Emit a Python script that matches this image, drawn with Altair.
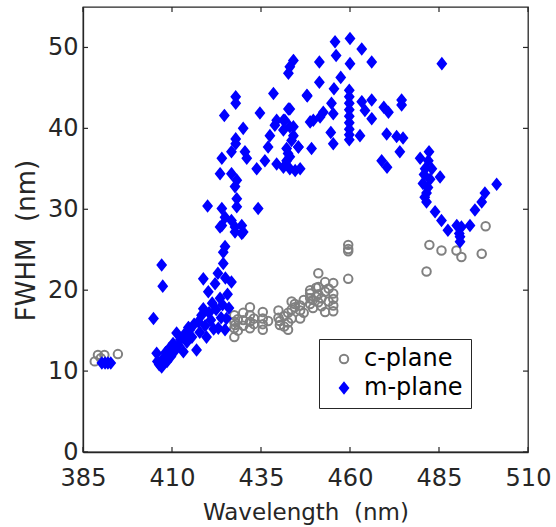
import altair as alt
import pandas as pd

# ---------------- data ----------------
c_x = [388.3, 389.2, 390.0, 391.0, 394.8,
       427.5, 427.5, 427.5, 427.5, 427.7, 428.5, 428.5, 430.0, 430.0, 430.0,
       431.9, 431.9, 431.9, 431.9, 433.0, 433.0,
       435.5, 435.5, 435.5, 435.5, 437.0, 439.9, 439.9, 440.3, 440.3, 441.5, 441.5,
       442.6, 442.6, 442.6, 443.6, 443.6, 443.6, 444.5, 444.5,
       446.0, 446.0, 446.0, 447.0, 447.0, 448.8, 448.8, 448.8, 448.8, 449.6, 449.6,
       450.5, 450.5, 451.1, 451.1, 451.1, 451.1, 452.0, 452.0,
       453.0, 453.0, 453.0, 454.0, 454.0,
       455.3, 455.3, 455.3, 455.3, 455.3,
       459.5, 459.5, 459.5, 459.5,
       481.5, 482.3, 485.7, 489.9, 491.3, 497.0, 498.1]
c_y = [11.2, 12.0, 11.6, 12.0, 12.1,
       14.2, 15.3, 16.1, 16.9, 15.7, 15.0, 16.4, 16.3, 15.6, 17.2,
       15.3, 16.1, 16.9, 17.9, 16.5, 15.8,
       15.1, 15.8, 16.5, 17.3, 16.2, 17.5, 16.6, 15.7, 16.2, 16.8, 15.5,
       15.1, 17.2, 16.0, 18.6, 17.6, 16.5, 17.9, 18.3,
       17.5, 16.5, 18.1, 18.8, 17.2, 19.6, 19.0, 18.3, 20.0, 18.8, 17.8,
       19.2, 20.3, 22.1, 20.4, 19.5, 18.5, 19.0, 18.0,
       17.3, 19.8, 21.0, 20.2, 18.6,
       20.9, 19.6, 18.9, 18.1, 17.4,
       25.6, 25.1, 24.8, 21.4,
       22.3, 25.6, 24.9, 24.9, 24.1, 24.5, 27.9]

m_x = [390.3, 391.2, 392.0, 392.8,
       404.8, 407.1, 407.4,
       405.7, 405.9, 406.4, 407.1, 407.6, 408.2, 408.6, 409.2, 409.7, 410.3, 410.8,
       411.3, 411.8, 412.4, 413.2, 413.6, 414.2, 414.6, 415.0, 415.6, 416.2, 416.9,
       417.4, 417.8, 418.3, 418.8, 418.8, 419.3, 419.7, 420.2, 420.4, 420.9, 421.3,
       421.7, 422.1, 422.4, 422.9, 423.0, 423.5, 423.5, 423.8, 424.2, 424.4, 424.4,
       424.9, 425.0, 425.3, 425.6, 426.0, 426.7,
       424.9, 427.7, 427.7, 429.6, 430.0, 424.0, 429.6, 426.7, 424.9, 424.0, 428.2,
       420.0, 434.2, 428.2, 427.7, 428.2, 423.5, 426.7, 424.0, 431.0, 426.7, 430.5,
       427.9, 427.9, 430.0, 424.7, 427.9, 427.9,
       433.8, 436.1, 437.0, 437.5, 438.9, 439.4, 434.7, 438.5, 439.4, 441.7, 441.3,
       443.1, 444.1, 443.6, 445.5, 442.2, 443.1, 444.6, 446.0, 442.6, 442.7, 441.3,
       443.1, 444.1, 445.5, 442.2, 443.1, 441.3, 449.2,
       444.1, 443.1, 442.7, 447.9,
       451.4, 455.8, 456.1, 460.0, 460.0, 463.3, 466.1, 451.4, 457.4, 455.5, 448.0,
       459.8, 459.8, 459.8, 459.8, 459.8, 459.8, 459.8, 459.8, 459.8,
       466.1, 463.3, 469.5, 470.8, 464.2, 474.5, 474.5, 452.5, 454.8, 455.3, 451.6,
       449.7, 448.8, 466.1, 454.6, 455.3, 462.8, 470.3, 473.1, 474.0, 474.9,
       468.9, 470.4,
       485.8, 479.7, 482.2, 481.1, 483.0, 480.5, 481.9, 481.5, 481.5, 485.3, 483.9,
       485.7, 487.5, 490.0, 491.3, 490.9, 490.7, 490.9, 493.7, 495.1, 497.0, 497.9,
       501.2, 480.8, 482.5, 481.0, 482.0]
m_y = [11.0, 11.0, 11.0, 11.0,
       16.5, 23.1, 20.5,
       12.2, 11.2, 10.8, 10.5, 11.6, 12.3, 11.2, 12.8, 11.8, 13.4, 12.5,
       14.7, 13.2, 13.9, 12.4, 14.6, 13.6, 15.4, 15.1, 14.2, 15.8, 12.6,
       16.1, 14.8, 16.9, 17.7, 21.4, 15.6, 14.2, 19.8, 17.2, 16.3, 18.4,
       15.2, 20.8, 17.6, 22.1, 15.3, 19.0, 27.8, 16.6, 18.2, 23.3, 24.7,
       15.1, 21.5, 16.5, 19.5, 17.8, 21.0,
       25.4, 27.2, 27.8, 27.0, 27.2, 28.0, 28.0, 28.6, 29.0, 30.1, 30.3,
       30.4, 30.1, 31.3, 32.8, 33.6, 34.4, 34.4, 36.3, 36.3, 37.1, 37.1,
       38.1, 38.7, 40.0, 41.6, 43.1, 43.9,
       35.0, 36.0, 37.7, 39.1, 40.4, 41.0, 41.9, 44.3, 35.6, 41.0, 39.8,
       42.4, 40.2, 38.5, 37.7, 36.0, 35.0, 34.8, 35.0, 36.9, 42.4, 41.0,
       40.2, 39.1, 37.7, 37.5, 36.5, 35.2, 37.5,
       48.4, 47.6, 46.8, 44.1,
       48.2, 50.7, 49.0, 51.1, 48.0, 49.8, 48.2, 45.7, 46.3, 44.9, 44.0,
       44.7, 43.9, 43.1, 42.3, 41.5, 40.7, 39.9, 39.2, 38.6,
       43.5, 43.3, 42.6, 42.0, 42.2, 43.5, 42.9, 42.0, 43.1, 41.8, 41.4,
       41.0, 40.8, 41.2, 39.5, 38.1, 39.1, 39.3, 39.0, 37.1, 38.8,
       36.0, 35.2,
       48.0, 36.3, 37.1, 35.0, 35.0, 33.2, 32.7, 32.0, 30.9, 34.0, 29.7,
       28.6, 27.4, 28.0, 27.8, 26.6, 27.0, 26.0, 28.0, 29.9, 30.9, 32.0,
       33.1, 34.3, 33.7, 31.5, 36.0]

series_names = ["c-plane", "m-plane"]
x_ticks = [385, 410, 435, 460, 485, 510]
y_ticks = [0, 10, 20, 30, 40, 50]

# ---------------- tables ----------------
df = pd.concat([
    pd.DataFrame({"x": c_x, "y": c_y, "series": "c-plane"}),
    pd.DataFrame({"x": m_x, "y": m_y, "series": "m-plane"}),
], ignore_index=True)
xt = pd.DataFrame({"v": x_ticks})
yt = pd.DataFrame({"v": y_ticks})

W, H = 445, 445
AX = "#262626"
FONT = "DejaVu Sans"
diamond = "M0,-1.22L0.98,0L0,1.22L-0.98,0Z"

xscale = alt.Scale(domain=[385, 510], nice=False, zero=False)
yscale = alt.Scale(domain=[0, 55], nice=False, zero=True)

xaxis = alt.Axis(values=x_ticks, title="Wavelength\u00a0 (nm)", grid=False, ticks=False,
                 labelFlush=False, labelPadding=14, titlePadding=11,
                 domainColor=AX, domainWidth=1.3)
yaxis = alt.Axis(values=y_ticks, title="FWHM\u00a0 (nm)", grid=False, ticks=False,
                 labelFlush=False, labelPadding=5, titlePadding=8,
                 titleFontSize=26, titleY=233, domainColor=AX, domainWidth=1.3)

leg = alt.Legend(orient="none", legendX=236, legendY=332)

points = alt.Chart(df).mark_point(opacity=1, strokeWidth=2, fillOpacity=1, size=72).encode(
    x=alt.X("x:Q", scale=xscale, axis=xaxis),
    y=alt.Y("y:Q", scale=yscale, axis=yaxis),
    color=alt.Color("series:N", scale=alt.Scale(domain=series_names, range=["#808080", "#0000ff"]),
                    legend=leg, title=""),
    shape=alt.Shape("series:N", scale=alt.Scale(domain=series_names, range=["circle", diamond]),
                    legend=leg, title=""),
    fill=alt.Fill("series:N", scale=alt.Scale(domain=series_names, range=["transparent", "#0000ff"]),
                  legend=leg, title=""),
)

tick_len = 5
xb = alt.Chart(xt).mark_rule(color=AX, strokeWidth=1.2).encode(
    x=alt.X("v:Q", scale=xscale), y=alt.value(H), y2=alt.value(H - tick_len))
xtop = alt.Chart(xt).mark_rule(color=AX, strokeWidth=1.2).encode(
    x=alt.X("v:Q", scale=xscale), y=alt.value(0), y2=alt.value(tick_len))
yl = alt.Chart(yt).mark_rule(color=AX, strokeWidth=1.2).encode(
    y=alt.Y("v:Q", scale=yscale), x=alt.value(0), x2=alt.value(tick_len))
yr = alt.Chart(yt).mark_rule(color=AX, strokeWidth=1.2).encode(
    y=alt.Y("v:Q", scale=yscale), x=alt.value(W), x2=alt.value(W - tick_len))

chart = alt.layer(points, xb, xtop, yl, yr).properties(
    width=W, height=H,
    padding={"left": 83, "top": 7, "right": 28, "bottom": 75},
    autosize=alt.AutoSizeParams(type="none"),
).configure_view(stroke=AX, strokeWidth=1.3).configure_axis(
    labelFont=FONT, titleFont=FONT, labelFontSize=24, titleFontSize=23,
    labelColor=AX, titleColor=AX, titleFontWeight="normal",
).configure_legend(
    labelFont=FONT, labelFontSize=24, labelColor="black",
    strokeColor=AX, fillColor="white", padding=8, cornerRadius=0,
    symbolSize=72, symbolStrokeWidth=2, rowPadding=5, labelOffset=8,
    symbolOffset=5, titlePadding=0,
)

chart.save("out.html", embed_options={"renderer": "svg", "actions": False})
